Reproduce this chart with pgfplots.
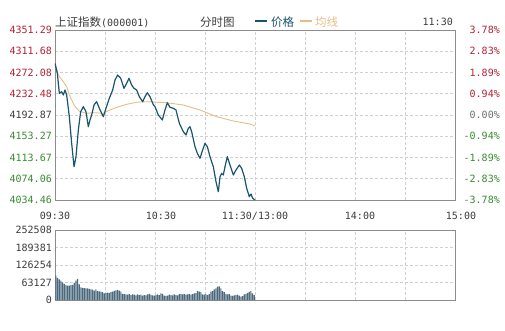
\documentclass[border=0pt]{standalone}
\usepackage{pgfplots}
\pgfplotsset{compat=1.18}
\usepackage{fontspec}
\newfontfamily\cjk{Noto Sans CJK SC}
\newfontfamily\mono{DejaVu Sans Mono}
\definecolor{cred}{RGB}{175,35,50}
\definecolor{cgreen}{RGB}{55,140,45}
\definecolor{cgray}{RGB}{60,60,60}
\definecolor{zgray}{RGB}{110,110,110}
\definecolor{price}{RGB}{25,85,110}
\definecolor{avgc}{RGB}{230,188,135}
\definecolor{volc}{RGB}{75,105,125}
\definecolor{gridc}{RGB}{208,208,208}
\definecolor{framec}{RGB}{140,140,140}

\pgfplotstableread{
t v
0 4289.2
1.4 4270.6
2.6 4233.3
4.0 4236.3
5.0 4230.2
6.0 4239.5
7.0 4230.2
8.6 4189.7
10.0 4140.1
11.4 4096.5
12.6 4115.2
14.0 4164.9
15.4 4199.0
17.0 4208.4
18.6 4199.0
20.0 4171.1
21.0 4183.6
22.0 4192.9
23.4 4211.5
25.0 4217.7
26.6 4205.4
28.0 4196.1
29.0 4189.7
30.6 4205.4
32.6 4224.0
34.6 4239.5
36.0 4258.1
37.6 4267.4
39.4 4261.3
41.4 4242.6
43.0 4252.0
44.4 4261.3
46.0 4248.8
47.4 4242.6
49.0 4239.5
50.6 4227.0
52.6 4217.7
54.0 4227.0
55.4 4234.4
57.0 4227.0
59.0 4212.0
60.0 4208.4
62.0 4192.9
64.4 4183.6
66.0 4202.2
67.4 4215.8
69.0 4207.2
71.0 4205.4
72.6 4202.2
74.6 4177.4
77.0 4161.8
78.6 4155.6
80.0 4168.1
81.0 4171.1
82.0 4161.8
84.0 4133.8
85.4 4121.5
87.0 4112.2
88.6 4127.7
90.0 4140.1
91.4 4133.8
93.0 4115.2
95.0 4096.5
96.6 4068.6
98.0 4049.9
99.0 4077.9
100.0 4084.2
101.0 4081.1
102.0 4096.5
103.4 4115.2
105.0 4099.7
107.0 4081.1
108.6 4090.4
110.6 4099.7
112.0 4093.5
113.6 4077.9
115.0 4056.3
116.6 4040.6
117.6 4045.7
118.6 4037.6
120.0 4034.5
}\pricedata

\pgfplotstableread{
t v
0 4289.8
2 4267.4
5 4254.9
7 4245.6
9 4227.0
12 4208.4
15 4199.0
19 4196.1
23 4197.2
29 4196.1
33 4202.2
37 4207.2
43 4212.8
49 4216.6
55 4217.7
61 4216.6
67 4215.8
77 4211.5
87 4202.2
97 4189.7
107 4181.7
117 4176.1
120 4172.4
}\avgdata

\pgfplotstableread{
t v
0.5 88000
1.5 80000
2.5 74000
3.5 70000
4.5 64000
5.5 58000
6.5 54000
7.5 52000
8.5 52000
9.5 54000
10.5 55000
11.5 62000
12.5 70000
13.5 76000
14.5 56000
15.5 46000
16.5 44000
17.5 43000
18.5 42000
19.5 42000
20.5 40000
21.5 38000
22.5 37000
23.5 34000
24.5 38000
25.5 32000
26.5 31000
27.5 30000
28.5 28000
29.5 24000
30.5 25000
31.5 27000
32.5 26000
33.5 28000
34.5 30000
35.5 33000
36.5 35000
37.5 36000
38.5 34000
39.5 30000
40.5 22000
41.5 21000
42.5 20000
43.5 19000
44.5 21000
45.5 18000
46.5 20000
47.5 19000
48.5 17000
49.5 20000
50.5 18000
51.5 19000
52.5 16000
53.5 18000
54.5 17000
55.5 20000
56.5 22000
57.5 19000
58.5 17000
59.5 16000
60.5 18000
61.5 20000
62.5 18000
63.5 24000
64.5 22000
65.5 16000
66.5 15000
67.5 16000
68.5 19000
69.5 18000
70.5 17000
71.5 20000
72.5 18000
73.5 17000
74.5 21000
75.5 22000
76.5 20000
77.5 21000
78.5 19000
79.5 20000
80.5 22000
81.5 19000
82.5 21000
83.5 24000
84.5 25000
85.5 32000
86.5 30000
87.5 28000
88.5 20000
89.5 19000
90.5 21000
91.5 18000
92.5 22000
93.5 30000
94.5 32000
95.5 38000
96.5 42000
97.5 48000
98.5 49000
99.5 42000
100.5 32000
101.5 28000
102.5 22000
103.5 20000
104.5 21000
105.5 16000
106.5 15000
107.5 17000
108.5 18000
109.5 19000
110.5 16000
111.5 12000
112.5 14000
113.5 20000
114.5 21000
115.5 26000
116.5 29000
117.5 32000
118.5 24000
119.5 18000
}\voldata

\pgfplotsset{base/.style={scale only axis, anchor=south west, width=400pt,
  xmin=0, xmax=240,
  axis line style={framec, line width=0.9pt},
  grid=major, major grid style={gridc, dash pattern=on 3pt off 2pt, line width=0.6pt},
  major tick length=0pt,
  tick label style={font=\mono\fontsize{10}{12}\selectfont},
  xtick={0,30,...,240},
  scaled y ticks=false,
  clip=true}}

\begin{document}
\begin{tikzpicture}
\path[use as bounding box] (0,0) rectangle (505pt,330pt);

% main price axis
\begin{axis}[base, at={(55pt,130pt)}, height=170pt,
  ymin=4034.46, ymax=4351.29,
  ytick={4034.46,4074.06,4113.67,4153.27,4192.87,4232.48,4272.08,4311.68,4351.29},
  yticklabels={\textcolor{cgreen}{4034.46},\textcolor{cgreen}{4074.06},\textcolor{cgreen}{4113.67},\textcolor{cgreen}{4153.27},\textcolor{cgray}{4192.87},\textcolor{cred}{4232.48},\textcolor{cred}{4272.08},\textcolor{cred}{4311.68},\textcolor{cred}{4351.29}},
  yticklabel style={anchor=east, inner sep=0pt, xshift=-3pt},
  xticklabels={09:30,,\hspace*{12pt}10:30,,11:30/13:00,,\hspace*{10pt}14:00,,\hspace*{12pt}15:00},
  xticklabel style={anchor=north, inner sep=0pt, yshift=-12pt, text=cgray}]
\addplot[avgc, line width=0.9pt] table[x=t,y=v] {\avgdata};
\addplot[price, line width=1.2pt, line join=round] table[x=t,y=v] {\pricedata};
\end{axis}

% right percentage labels
\begin{axis}[scale only axis, anchor=south west, at={(55pt,130pt)}, width=400pt, height=170pt,
  xmin=0, xmax=240, ymin=4034.46, ymax=4351.29,
  axis line style={draw=none}, xtick=\empty, major tick length=0pt,
  ytick={4034.46,4074.06,4113.67,4153.27,4192.87,4232.48,4272.08,4311.68,4351.29},
  yticklabels={\textcolor{cgreen}{-3.78\%},\textcolor{cgreen}{-2.83\%},\textcolor{cgreen}{-1.89\%},\textcolor{cgreen}{-0.94\%},\textcolor{zgray}{0.00\%},\textcolor{cred}{0.94\%},\textcolor{cred}{1.89\%},\textcolor{cred}{2.83\%},\textcolor{cred}{3.78\%}},
  yticklabel pos=right,
  yticklabel style={anchor=east, inner sep=0pt, xshift=45pt, font=\mono\fontsize{10}{12}\selectfont}]
\end{axis}

% volume axis
\begin{axis}[base, at={(55pt,30pt)}, height=70pt,
  ymin=0, ymax=252508,
  ytick={0,63127,126254,189381,252508},
  yticklabels={0,63127,126254,189381,252508},
  yticklabel style={anchor=east, inner sep=0pt, xshift=-3pt, text=cgray},
  xticklabels={,,,,,,,,}]
\addplot[ybar, bar width=0.7, fill=volc, draw=none] table[x=t,y=v] {\voldata};
\end{axis}

% header
\node[anchor=west, inner sep=0pt, text=cgray] at (55pt,308pt) {{\cjk\fontsize{11.5}{13}\selectfont 上证指数}{\mono\fontsize{10}{12}\selectfont (000001)}};
\node[anchor=west, inner sep=0pt, text=cgray] at (200pt,308pt) {\cjk\fontsize{11.5}{13}\selectfont 分时图};
\draw[price, line width=2pt] (255pt,309pt) -- (267pt,309pt);
\node[anchor=west, inner sep=0pt, text=price] at (271pt,308pt) {\cjk\fontsize{11.5}{13}\selectfont 价格};
\draw[avgc, line width=2pt] (300pt,309pt) -- (312pt,309pt);
\node[anchor=west, inner sep=0pt, text=avgc] at (315pt,308pt) {\cjk\fontsize{11.5}{13}\selectfont 均线};
\node[anchor=east, inner sep=0pt, text=cgray] at (453pt,308pt) {\mono\fontsize{10}{12}\selectfont 11:30};
\end{tikzpicture}
\end{document}
